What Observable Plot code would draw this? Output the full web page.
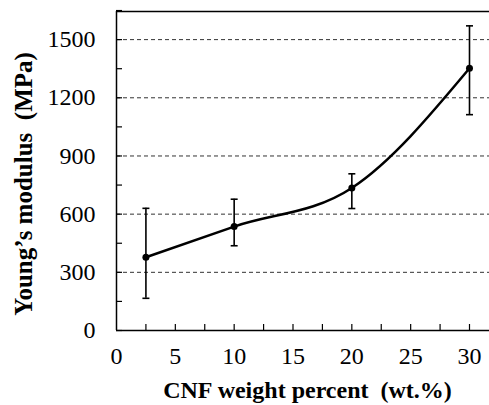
<!DOCTYPE html>
<html>
<head>
<meta charset="utf-8">
<script src="https://cdn.jsdelivr.net/npm/d3@7"></script>
<script src="https://cdn.jsdelivr.net/npm/@observablehq/plot@0.6"></script>
<style>
  html, body { margin: 0; padding: 0; background: #fff; }
  #chart { width: 489px; height: 405px; }
  svg text { font-family: "Liberation Serif", "Times New Roman", serif; }
</style>
</head>
<body>
<div id="chart"></div>
<script>
const cnf = [2.5, 10, 20, 30];
const modulus = [378, 536, 735, 1352];
const errLow = [166, 437, 629, 1113];
const errHigh = [630, 677, 808, 1571];
const xTickLabels = [0, 5, 10, 15, 20, 25, 30];
const xMinorTicks = [2.5, 5, 7.5, 10, 12.5, 15, 17.5, 20, 22.5, 25, 27.5, 30];
const yTickLabels = [0, 300, 600, 900, 1200, 1500];
const yMinorTicks = [150, 450, 750, 1050, 1350, 1650];
const gridValues = [300, 600, 900, 1200, 1500];
const xLabel = "CNF weight percent  (wt.%)";
const yLabel = "Young\u2019s modulus  (MPa)";

const data = cnf.map((x, i) => ({x, y: modulus[i], lo: errLow[i], hi: errHigh[i]}));
const xMax = 31.7, yMax = 1645;
const capSymbol = {draw(ctx) { ctx.moveTo(-3.5, 0); ctx.lineTo(3.5, 0); }};
const font = "Liberation Serif";

const plot = Plot.plot({
  width: 489,
  height: 405,
  marginLeft: 116,
  marginRight: 0,
  marginTop: 11,
  marginBottom: 75,
  style: {fontFamily: "'Liberation Serif', serif", background: "#fff", color: "#000", overflow: "visible"},
  x: {domain: [0, xMax]},
  y: {domain: [0, yMax]},
  marks: [
    Plot.ruleY(gridValues, {stroke: "#333", strokeWidth: 1, strokeDasharray: "4,3"}),
    Plot.ruleY([yMax], {stroke: "#000", strokeWidth: 1.5}),
    Plot.ruleY([0], {stroke: "#000", strokeWidth: 1.5}),
    Plot.ruleX([0], {stroke: "#000", strokeWidth: 1.5}),
    Plot.axisX({ticks: xMinorTicks, tickSize: -6, tickFormat: () => "", strokeWidth: 1.2, label: null}),
    Plot.axisX({ticks: xTickLabels, tickSize: 0, tickPadding: 16, fontSize: 24, fontFamily: font, label: null, fill: "#000"}),
    Plot.axisY({ticks: yMinorTicks.concat(yTickLabels), tickSize: -6, tickFormat: () => "", strokeWidth: 1.2, label: null}),
    Plot.axisY({ticks: yTickLabels, tickSize: 0, tickPadding: 21, fontSize: 24, fontFamily: font, label: null, fill: "#000", tickFormat: d => String(d)}),
    Plot.ruleX(data, {x: "x", y1: "lo", y2: "hi", stroke: "#000", strokeWidth: 1.6}),
    Plot.dot(data, {x: "x", y: "lo", symbol: capSymbol, stroke: "#000", strokeWidth: 1.6, fill: "none"}),
    Plot.dot(data, {x: "x", y: "hi", symbol: capSymbol, stroke: "#000", strokeWidth: 1.6, fill: "none"}),
    Plot.line(data, {x: "x", y: "y", curve: "monotone-x", stroke: "#000", strokeWidth: 2.5}),
    Plot.dot(data, {x: "x", y: "y", r: 3.5, fill: "#000", stroke: "none"}),
    Plot.text([yLabel], {frameAnchor: "left", text: d => d, rotate: -90, dx: -93, dy: 13, fontSize: 25, fontFamily: font, fontWeight: "bold", fill: "#000", textAnchor: "middle"}),
    Plot.text([xLabel], {frameAnchor: "bottom", text: d => d, dx: 4.5, dy: 67, fontSize: 24, fontFamily: font, fontWeight: "bold", fill: "#000", textAnchor: "middle"})
  ]
});
document.getElementById("chart").appendChild(plot);
</script>
</body>
</html>
